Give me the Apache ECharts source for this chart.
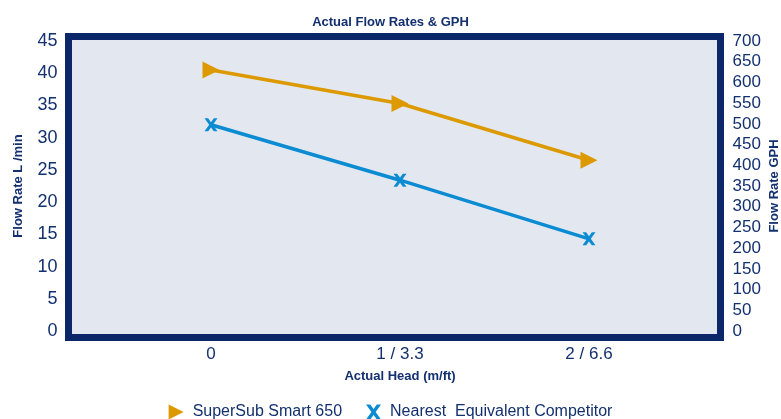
<!DOCTYPE html>
<html>
<head>
<meta charset="utf-8">
<script src="https://cdn.jsdelivr.net/npm/echarts@6/dist/echarts.min.js"></script>
<style>
  html, body { margin: 0; padding: 0; background: #fff; }
  #chart { width: 781px; height: 419px; }
</style>
</head>
<body>
<div id="chart"></div>
<script>
var categories = ['0', '1 / 3.3', '2 / 6.6']
var superSub = [40.5, 35.3, 26.5]
var competitor = [32.0, 23.4, 14.3]
var seriesNames = ['SuperSub Smart 650', 'Nearest  Equivalent Competitor']

var navy = '#0b2669'
var textColor = '#13306f'
var orange = '#dd9a00'
var blue = '#0a8bd2'
var font = 'Liberation Sans, Arial, sans-serif'

// filled X shape for the competitor markers
var crossPath = 'path://M0,0 L2.8,0 L5,3 L7.2,0 L10,0 L6.4,5 L10,10 L7.2,10 L5,7 L2.8,10 L0,10 L3.6,5 Z'

var myChart = echarts.init(document.getElementById('chart'))
var option = {
  animation: false,
  title: {
    text: 'Actual Flow Rates & GPH',
    left: 'center',
    top: 11,
    textStyle: { color: textColor, fontSize: 13, fontWeight: 'bold', fontFamily: font }
  },
  // thick frame around the plot
  graphic: [{
    type: 'rect',
    z: 0,
    shape: { x: 68.5, y: 36.5, width: 652, height: 301 },
    style: { fill: '#e3e8f0', stroke: navy, lineWidth: 7 }
  }],
  legend: {
    data: [
      { name: seriesNames[0], icon: 'path://M0,0 L10,5 L0,10 Z' },
      { name: seriesNames[1], icon: crossPath }
    ],
    top: 399,
    left: 'center',
    itemWidth: 15,
    itemHeight: 15,
    itemGap: 24,
    textStyle: { color: textColor, fontSize: 16, fontFamily: font, padding: [0, 0, 0, 4] }
  },
  grid: {
    left: 116.5,
    right: 97.5,
    top: 41,
    bottom: 88,
    outerBoundsMode: 'none'
  },
  xAxis: {
    type: 'category',
    data: categories,
    name: 'Actual Head (m/ft)',
    nameLocation: 'middle',
    nameGap: 39,
    nameMoveOverlap: false,
    nameTextStyle: { color: textColor, fontSize: 13, fontWeight: 'bold', fontFamily: font },
    axisLine: { show: false },
    axisTick: { show: false },
    axisLabel: { color: textColor, fontSize: 17, margin: 15, fontFamily: font },
    splitLine: { show: false }
  },
  yAxis: [
    {
      type: 'value',
      min: 0,
      max: 45,
      interval: 5,
      name: 'Flow Rate L /min',
      nameLocation: 'middle',
      nameGap: 92,
      nameMoveOverlap: false,
      nameTextStyle: { color: textColor, fontSize: 13, fontWeight: 'bold', fontFamily: font },
      axisLine: { show: false },
      axisTick: { show: false },
      splitLine: { show: false },
      axisLabel: { color: textColor, fontSize: 18, margin: 59, fontFamily: font }
    },
    {
      type: 'value',
      position: 'right',
      min: 0,
      max: 700,
      interval: 50,
      name: 'Flow Rate GPH',
      nameLocation: 'middle',
      nameRotate: 90,
      nameGap: 84,
      nameMoveOverlap: false,
      nameTextStyle: { color: textColor, fontSize: 13, fontWeight: 'bold', fontFamily: font },
      axisLine: { show: false },
      axisTick: { show: false },
      splitLine: { show: false },
      axisLabel: { color: textColor, fontSize: 17, margin: 49, fontFamily: font }
    }
  ],
  series: [
    {
      name: seriesNames[0],
      type: 'line',
      data: superSub,
      color: orange,
      symbol: 'triangle',
      symbolRotate: -90,
      symbolSize: 17,
      showAllSymbol: true,
      lineStyle: { color: orange, width: 3.5 },
      itemStyle: { color: orange }
    },
    {
      name: seriesNames[1],
      type: 'line',
      data: competitor,
      color: blue,
      symbol: crossPath,
      symbolSize: 13,
      showAllSymbol: true,
      lineStyle: { color: blue, width: 3.5 },
      itemStyle: { color: blue }
    }
  ]
}
myChart.setOption(option)
</script>
</body>
</html>
